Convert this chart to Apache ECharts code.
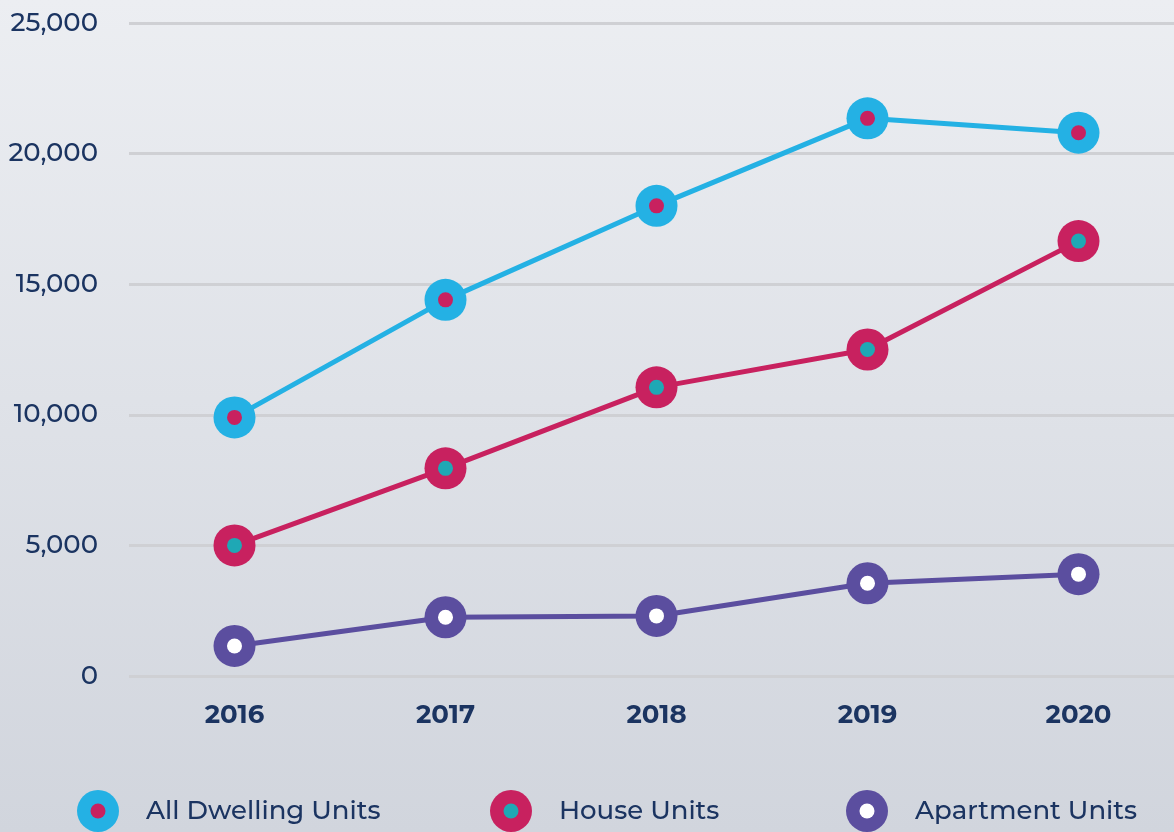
<!DOCTYPE html>
<html>
<head>
<meta charset="utf-8">
<script src="https://cdn.jsdelivr.net/npm/echarts@6/dist/echarts.min.js"></script>
<style>
  html, body { margin: 0; padding: 0; }
  #chart { width: 1174px; height: 832px; }
</style>
</head>
<body>
<div id="chart"></div>
<script>
const years = ['2016', '2017', '2018', '2019', '2020']
const allDwelling = [9900, 14400, 18000, 21350, 20800]
const houseUnits = [5000, 7950, 11050, 12500, 16650]
const apartmentUnits = [1150, 2250, 2300, 3550, 3900]
const yTicks = [0, 5000, 10000, 15000, 20000, 25000]

const textColor = '#1b3461'
const fontName = 'Montserrat, "Noto Sans", sans-serif'

// outer colour, inner dot colour
const seriesDefs = [
  { name: 'All Dwelling Units', data: allDwelling, color: '#24b1e4', dot: '#c8215f', legendLeft: 72 },
  { name: 'House Units', data: houseUnits, color: '#c8215f', dot: '#1fa8b5', legendLeft: 485 },
  { name: 'Apartment Units', data: apartmentUnits, color: '#5b4e9f', dot: '#ffffff', legendLeft: 841 }
]

function legendIcon(outer, inner) {
  var svg = '<svg xmlns="http://www.w3.org/2000/svg" width="64" height="42" viewBox="0 0 64 42">' +
    '<circle cx="21" cy="21" r="21" fill="' + outer + '"/>' +
    '<circle cx="21" cy="21" r="7.5" fill="' + inner + '"/></svg>'
  return 'image://data:image/svg+xml;charset=utf-8,' + encodeURIComponent(svg)
}

const chart = echarts.init(document.getElementById('chart'))

const series = []
seriesDefs.forEach(function (s) {
  series.push({
    name: s.name,
    type: 'line',
    data: s.data,
    symbol: 'circle',
    symbolSize: 42,
    itemStyle: { color: s.color, opacity: 1 },
    lineStyle: { color: s.color, width: 5 },
    z: 3
  })
  series.push({
    name: s.name + ' dot',
    type: 'scatter',
    data: s.data,
    symbolSize: 15,
    itemStyle: { color: s.dot, opacity: 1 },
    z: 5,
    silent: true
  })
})

const legends = seriesDefs.map(function (s) {
  return {
    left: s.legendLeft,
    top: 785,
    itemWidth: 64,
    itemHeight: 42,
    itemGap: 0,
    selectedMode: false,
    data: [{ name: s.name, icon: legendIcon(s.color, s.dot) }],
    textStyle: { color: textColor, fontSize: 26, fontWeight: 500, fontFamily: fontName }
  }
})

chart.setOption({
  animation: false,
  backgroundColor: {
    type: 'linear', x: 0, y: 0, x2: 0, y2: 1,
    colorStops: [{ offset: 0, color: '#eceef2' }, { offset: 1, color: '#d1d5dd' }]
  },
  legend: legends,
  grid: { left: 129, top: 23, right: -10, bottom: 156, outerBoundsMode: 'none' },
  xAxis: {
    type: 'category',
    data: years,
    boundaryGap: true,
    axisLine: { show: false },
    axisTick: { show: false },
    axisLabel: {
      color: textColor, fontSize: 26, fontWeight: 'bold', fontFamily: fontName, margin: 26
    }
  },
  yAxis: {
    type: 'value',
    min: yTicks[0],
    max: yTicks[yTicks.length - 1],
    interval: 5000,
    axisLine: { show: false },
    axisTick: { show: false },
    splitLine: { lineStyle: { color: '#cfd0d4', width: 3 } },
    axisLabel: {
      color: textColor, fontSize: 26, fontWeight: 500, fontFamily: fontName, margin: 31,
      formatter: function (v) { return v.toLocaleString('en-US') }
    }
  },
  series: series
})
</script>
</body>
</html>
